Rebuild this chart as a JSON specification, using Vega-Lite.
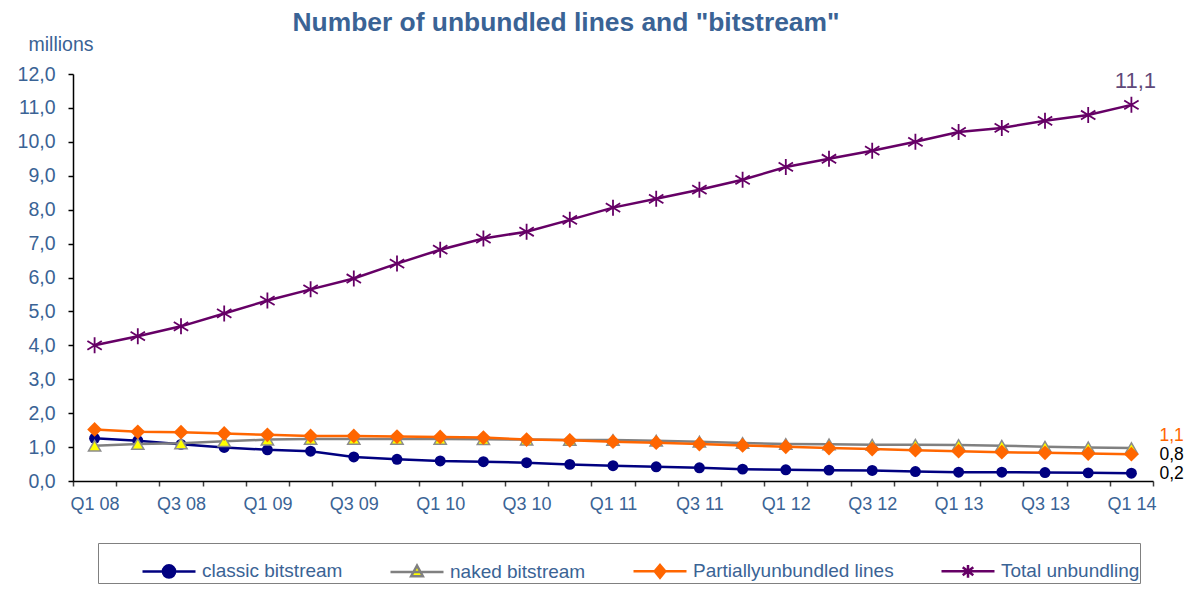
{
  "$schema": "https://vega.github.io/schema/vega-lite/v6.json",
  "width": 1080,
  "height": 407,
  "autosize": {"type": "none"},
  "padding": {"left": 73, "top": 74, "right": 36, "bottom": 108},
  "background": "white",
  "config": {
    "font": "Liberation Sans",
    "view": {"stroke": null},
    "axis": {"labelFont": "Liberation Sans", "titleFont": "Liberation Sans", "grid": false}
  },
  "title": {
    "text": "Number of unbundled lines and \"bitstream\"",
    "font": "Liberation Sans",
    "fontSize": 26.4,
    "fontWeight": "bold",
    "color": "#3a6395",
    "anchor": "middle",
    "dx": -47,
    "offset": -2
  },
  "data": {
    "values": [
      {"q": "Q1 08", "s": "classic bitstream", "v": 1.26},
      {"q": "Q2 08", "s": "classic bitstream", "v": 1.19},
      {"q": "Q3 08", "s": "classic bitstream", "v": 1.08},
      {"q": "Q4 08", "s": "classic bitstream", "v": 0.99},
      {"q": "Q1 09", "s": "classic bitstream", "v": 0.92},
      {"q": "Q2 09", "s": "classic bitstream", "v": 0.88},
      {"q": "Q3 09", "s": "classic bitstream", "v": 0.71},
      {"q": "Q4 09", "s": "classic bitstream", "v": 0.64},
      {"q": "Q1 10", "s": "classic bitstream", "v": 0.59},
      {"q": "Q2 10", "s": "classic bitstream", "v": 0.57},
      {"q": "Q3 10", "s": "classic bitstream", "v": 0.54},
      {"q": "Q4 10", "s": "classic bitstream", "v": 0.49},
      {"q": "Q1 11", "s": "classic bitstream", "v": 0.45},
      {"q": "Q2 11", "s": "classic bitstream", "v": 0.42},
      {"q": "Q3 11", "s": "classic bitstream", "v": 0.39},
      {"q": "Q4 11", "s": "classic bitstream", "v": 0.35},
      {"q": "Q1 12", "s": "classic bitstream", "v": 0.33},
      {"q": "Q2 12", "s": "classic bitstream", "v": 0.32},
      {"q": "Q3 12", "s": "classic bitstream", "v": 0.31},
      {"q": "Q4 12", "s": "classic bitstream", "v": 0.28},
      {"q": "Q1 13", "s": "classic bitstream", "v": 0.26},
      {"q": "Q2 13", "s": "classic bitstream", "v": 0.26},
      {"q": "Q3 13", "s": "classic bitstream", "v": 0.25},
      {"q": "Q4 13", "s": "classic bitstream", "v": 0.24},
      {"q": "Q1 14", "s": "classic bitstream", "v": 0.23},

      {"q": "Q1 08", "s": "naked bitstream", "v": 1.04},
      {"q": "Q2 08", "s": "naked bitstream", "v": 1.09},
      {"q": "Q3 08", "s": "naked bitstream", "v": 1.11},
      {"q": "Q4 08", "s": "naked bitstream", "v": 1.17},
      {"q": "Q1 09", "s": "naked bitstream", "v": 1.22},
      {"q": "Q2 09", "s": "naked bitstream", "v": 1.24},
      {"q": "Q3 09", "s": "naked bitstream", "v": 1.24},
      {"q": "Q4 09", "s": "naked bitstream", "v": 1.24},
      {"q": "Q1 10", "s": "naked bitstream", "v": 1.24},
      {"q": "Q2 10", "s": "naked bitstream", "v": 1.23},
      {"q": "Q3 10", "s": "naked bitstream", "v": 1.22},
      {"q": "Q4 10", "s": "naked bitstream", "v": 1.21},
      {"q": "Q1 11", "s": "naked bitstream", "v": 1.21},
      {"q": "Q2 11", "s": "naked bitstream", "v": 1.19},
      {"q": "Q3 11", "s": "naked bitstream", "v": 1.16},
      {"q": "Q4 11", "s": "naked bitstream", "v": 1.12},
      {"q": "Q1 12", "s": "naked bitstream", "v": 1.09},
      {"q": "Q2 12", "s": "naked bitstream", "v": 1.08},
      {"q": "Q3 12", "s": "naked bitstream", "v": 1.07},
      {"q": "Q4 12", "s": "naked bitstream", "v": 1.07},
      {"q": "Q1 13", "s": "naked bitstream", "v": 1.06},
      {"q": "Q2 13", "s": "naked bitstream", "v": 1.04},
      {"q": "Q3 13", "s": "naked bitstream", "v": 1.01},
      {"q": "Q4 13", "s": "naked bitstream", "v": 0.99},
      {"q": "Q1 14", "s": "naked bitstream", "v": 0.97},

      {"q": "Q1 08", "s": "Partiallyunbundled lines", "v": 1.52},
      {"q": "Q2 08", "s": "Partiallyunbundled lines", "v": 1.45},
      {"q": "Q3 08", "s": "Partiallyunbundled lines", "v": 1.44},
      {"q": "Q4 08", "s": "Partiallyunbundled lines", "v": 1.40},
      {"q": "Q1 09", "s": "Partiallyunbundled lines", "v": 1.36},
      {"q": "Q2 09", "s": "Partiallyunbundled lines", "v": 1.33},
      {"q": "Q3 09", "s": "Partiallyunbundled lines", "v": 1.33},
      {"q": "Q4 09", "s": "Partiallyunbundled lines", "v": 1.31},
      {"q": "Q1 10", "s": "Partiallyunbundled lines", "v": 1.30},
      {"q": "Q2 10", "s": "Partiallyunbundled lines", "v": 1.28},
      {"q": "Q3 10", "s": "Partiallyunbundled lines", "v": 1.22},
      {"q": "Q4 10", "s": "Partiallyunbundled lines", "v": 1.20},
      {"q": "Q1 11", "s": "Partiallyunbundled lines", "v": 1.16},
      {"q": "Q2 11", "s": "Partiallyunbundled lines", "v": 1.13},
      {"q": "Q3 11", "s": "Partiallyunbundled lines", "v": 1.09},
      {"q": "Q4 11", "s": "Partiallyunbundled lines", "v": 1.05},
      {"q": "Q1 12", "s": "Partiallyunbundled lines", "v": 1.01},
      {"q": "Q2 12", "s": "Partiallyunbundled lines", "v": 0.97},
      {"q": "Q3 12", "s": "Partiallyunbundled lines", "v": 0.94},
      {"q": "Q4 12", "s": "Partiallyunbundled lines", "v": 0.91},
      {"q": "Q1 13", "s": "Partiallyunbundled lines", "v": 0.88},
      {"q": "Q2 13", "s": "Partiallyunbundled lines", "v": 0.85},
      {"q": "Q3 13", "s": "Partiallyunbundled lines", "v": 0.83},
      {"q": "Q4 13", "s": "Partiallyunbundled lines", "v": 0.81},
      {"q": "Q1 14", "s": "Partiallyunbundled lines", "v": 0.79},

      {"q": "Q1 08", "s": "Total unbundling", "v": 4.00},
      {"q": "Q2 08", "s": "Total unbundling", "v": 4.27},
      {"q": "Q3 08", "s": "Total unbundling", "v": 4.56},
      {"q": "Q4 08", "s": "Total unbundling", "v": 4.94},
      {"q": "Q1 09", "s": "Total unbundling", "v": 5.32},
      {"q": "Q2 09", "s": "Total unbundling", "v": 5.65},
      {"q": "Q3 09", "s": "Total unbundling", "v": 5.97},
      {"q": "Q4 09", "s": "Total unbundling", "v": 6.41},
      {"q": "Q1 10", "s": "Total unbundling", "v": 6.82},
      {"q": "Q2 10", "s": "Total unbundling", "v": 7.15},
      {"q": "Q3 10", "s": "Total unbundling", "v": 7.35},
      {"q": "Q4 10", "s": "Total unbundling", "v": 7.70},
      {"q": "Q1 11", "s": "Total unbundling", "v": 8.06},
      {"q": "Q2 11", "s": "Total unbundling", "v": 8.32},
      {"q": "Q3 11", "s": "Total unbundling", "v": 8.59},
      {"q": "Q4 11", "s": "Total unbundling", "v": 8.88},
      {"q": "Q1 12", "s": "Total unbundling", "v": 9.26},
      {"q": "Q2 12", "s": "Total unbundling", "v": 9.50},
      {"q": "Q3 12", "s": "Total unbundling", "v": 9.74},
      {"q": "Q4 12", "s": "Total unbundling", "v": 10.00},
      {"q": "Q1 13", "s": "Total unbundling", "v": 10.29},
      {"q": "Q2 13", "s": "Total unbundling", "v": 10.41},
      {"q": "Q3 13", "s": "Total unbundling", "v": 10.62},
      {"q": "Q4 13", "s": "Total unbundling", "v": 10.79},
      {"q": "Q1 14", "s": "Total unbundling", "v": 11.09}
    ]
  },
  "encoding": {
    "x": {
      "field": "q",
      "type": "ordinal",
      "sort": null,
      "scale": {
        "type": "band",
        "domain": ["Q1 08","Q2 08","Q3 08","Q4 08","Q1 09","Q2 09","Q3 09","Q4 09","Q1 10","Q2 10","Q3 10","Q4 10","Q1 11","Q2 11","Q3 11","Q4 11","Q1 12","Q2 12","Q3 12","Q4 12","Q1 13","Q2 13","Q3 13","Q4 13","Q1 14"],
        "paddingInner": 0,
        "paddingOuter": 0
      },
      "axis": {
        "title": null,
        "labelExpr": "indexof(datum.label, 'Q2') >= 0 || indexof(datum.label, 'Q4') >= 0 ? '' : datum.label",
        "tickBand": "extent",
        "labelAngle": 0,
        "labelFontSize": 18,
        "labelColor": "#3a6395",
        "labelPadding": 9,
        "tickSize": 5,
        "tickColor": "#404040",
        "tickWidth": 1.5,
        "domainColor": "#000000",
        "domainWidth": 1.5,
        "labelOverlap": false
      }
    },
    "y": {
      "field": "v",
      "type": "quantitative",
      "scale": {"domain": [0, 12], "nice": false, "zero": true},
      "axis": {
        "title": "millions",
        "titleAngle": 0,
        "titleX": -45,
        "titleY": -24,
        "titleAlign": "left",
        "titleBaseline": "alphabetic",
        "titleFontSize": 19.5,
        "titleFontWeight": "normal",
        "titleColor": "#3a6395",
        "values": [0,1,2,3,4,5,6,7,8,9,10,11,12],
        "labelExpr": "replace(format(datum.value, '.1f'), '.', ',')",
        "labelFontSize": 19.5,
        "labelColor": "#3a6395",
        "labelPadding": 13,
        "tickSize": 5,
        "tickColor": "#000000",
        "tickWidth": 1.5,
        "domainColor": "#000000",
        "domainWidth": 1.5
      }
    }
  },
  "layer": [
    {
      "transform": [{"filter": "datum.s === 'classic bitstream'"}],
      "mark": {"type": "line", "color": "#000080", "strokeWidth": 2.5}
    },
    {
      "transform": [{"filter": "datum.s === 'classic bitstream'"}],
      "mark": {"type": "point", "shape": "circle", "filled": true, "color": "#000080", "size": 120, "opacity": 1}
    },
    {
      "transform": [{"filter": "datum.s === 'naked bitstream'"}],
      "mark": {"type": "line", "color": "#808080", "strokeWidth": 2.5}
    },
    {
      "transform": [{"filter": "datum.s === 'naked bitstream'"}],
      "mark": {"type": "point", "shape": "triangle-up", "filled": true, "fill": "#ffff00", "stroke": "#8c8c8c", "strokeWidth": 1.5, "size": 150, "opacity": 1}
    },
    {
      "transform": [{"filter": "datum.s === 'Partiallyunbundled lines'"}],
      "mark": {"type": "line", "color": "#ff6600", "strokeWidth": 2.5}
    },
    {
      "transform": [{"filter": "datum.s === 'Partiallyunbundled lines'"}],
      "mark": {"type": "point", "shape": "diamond", "filled": true, "color": "#ff6600", "size": 220, "opacity": 1}
    },
    {
      "transform": [{"filter": "datum.s === 'Total unbundling'"}],
      "mark": {"type": "line", "color": "#660066", "strokeWidth": 2.5}
    },
    {
      "transform": [{"filter": "datum.s === 'Total unbundling'"}],
      "mark": {"type": "point", "shape": "M0,-1L0,1M-0.9,-0.55L0.9,0.55M-0.9,0.55L0.9,-0.55", "filled": false, "stroke": "#660066", "strokeWidth": 1.8, "size": 256, "opacity": 1}
    },
    {
      "mark": {"type": "point", "filled": true, "size": 0},
      "encoding": {
        "shape": {
          "field": "s", "type": "nominal",
          "scale": {
            "domain": ["classic bitstream", "naked bitstream", "Partiallyunbundled lines", "Total unbundling"],
            "range": [
              "M-1,0L1,0M0.23,0A0.23,0.23,0,1,1,-0.23,0A0.23,0.23,0,1,1,0.23,0",
              "M-1,0L1,0M0,-0.24L0.22,0.16L-0.22,0.16Z",
              "M-1,0L1,0M0,-0.24L0.2,0L0,0.24L-0.2,0Z",
              "M-1,0L1,0M0,-0.24L0,0.24M-0.2,-0.15L0.2,0.15M-0.2,0.15L0.2,-0.15"
            ]
          },
          "legend": {"orient": "none", "legendX": 25, "legendY": 469, "direction": "horizontal", "columns": 4, "title": "\u00a0", "titleOrient": "left", "titleFontSize": 4, "titlePadding": 43, "padding": 0, "strokeColor": "#808080", "fillColor": "white", "symbolSize": 2809, "symbolStrokeWidth": 2.5, "symbolOpacity": 1, "labelFontSize": 19, "labelFont": "Liberation Sans", "labelColor": "#3a6395", "labelOffset": 5, "columnPadding": 42, "labelLimit": 400}
        },
        "fill": {
          "field": "s", "type": "nominal",
          "scale": {
            "domain": ["classic bitstream", "naked bitstream", "Partiallyunbundled lines", "Total unbundling"],
            "range": ["#000080", "#ffff00", "#ff6600", "#660066"]
          },
          "legend": {"orient": "none", "legendX": 25, "legendY": 469, "direction": "horizontal", "columns": 4, "title": "\u00a0", "titleOrient": "left", "titleFontSize": 4, "titlePadding": 43, "padding": 0, "strokeColor": "#808080", "fillColor": "white", "symbolSize": 2809, "symbolStrokeWidth": 2.5, "symbolOpacity": 1, "labelFontSize": 19, "labelFont": "Liberation Sans", "labelColor": "#3a6395", "labelOffset": 5, "columnPadding": 42, "labelLimit": 400}
        },
        "stroke": {
          "field": "s", "type": "nominal",
          "scale": {
            "domain": ["classic bitstream", "naked bitstream", "Partiallyunbundled lines", "Total unbundling"],
            "range": ["#000080", "#808080", "#ff6600", "#660066"]
          },
          "legend": {"orient": "none", "legendX": 25, "legendY": 469, "direction": "horizontal", "columns": 4, "title": "\u00a0", "titleOrient": "left", "titleFontSize": 4, "titlePadding": 43, "padding": 0, "strokeColor": "#808080", "fillColor": "white", "symbolSize": 2809, "symbolStrokeWidth": 2.5, "symbolOpacity": 1, "labelFontSize": 19, "labelFont": "Liberation Sans", "labelColor": "#3a6395", "labelOffset": 5, "columnPadding": 42, "labelLimit": 400}
        }
      }
    },
    {
      "data": {"values": [{"q": "Q1 14", "v": 11.1, "t": "11,1"}]},
      "mark": {"type": "text", "fontSize": 22, "color": "#5f497a", "dy": -24, "dx": 4, "baseline": "middle", "align": "center", "font": "Liberation Sans"},
      "encoding": {"text": {"field": "t"}}
    },
    {
      "data": {"values": [{"q": "Q1 14", "v": 1.32, "t": "1,1"}, {"q": "Q1 14", "v": 0.77, "t": "0,8"}, {"q": "Q1 14", "v": 0.22, "t": "0,2"}]},
      "mark": {"type": "text", "fontSize": 17.5, "dx": 28, "baseline": "middle", "align": "left", "font": "Liberation Sans"},
      "encoding": {
        "text": {"field": "t"},
        "color": {"field": "t", "type": "nominal", "scale": {"domain": ["1,1", "0,8", "0,2"], "range": ["#ff6600", "#000000", "#000000"]}, "legend": null}
      }
    }
  ]
}
